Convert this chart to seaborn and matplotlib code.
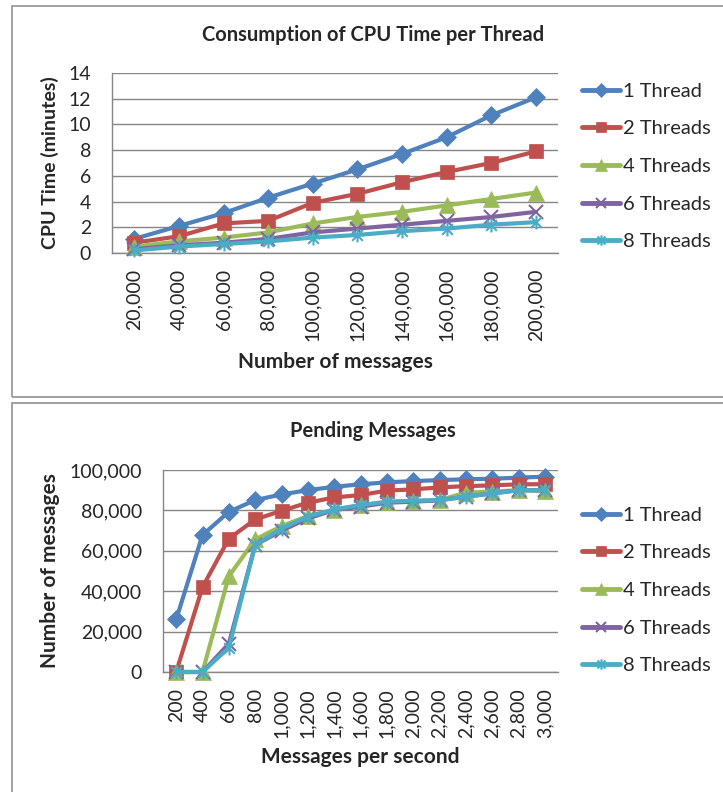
import numpy as np
import pandas as pd
import seaborn as sns
import matplotlib
matplotlib.use('Agg')
import matplotlib.pyplot as plt
from matplotlib.patches import Rectangle
from matplotlib.path import Path
from matplotlib.ticker import FuncFormatter

# ---- data ----
series_names = ['1 Thread', '2 Threads', '4 Threads', '6 Threads', '8 Threads']

cpu_msgs = ['20,000', '40,000', '60,000', '80,000', '100,000',
            '120,000', '140,000', '160,000', '180,000', '200,000']
cpu_1 = [1.1, 2.1, 3.1, 4.3, 5.4, 6.5, 7.7, 9.0, 10.7, 12.1]
cpu_2 = [0.8, 1.3, 2.3, 2.5, 3.9, 4.6, 5.5, 6.3, 7.0, 7.9]
cpu_4 = [0.5, 0.9, 1.2, 1.6, 2.3, 2.8, 3.2, 3.7, 4.2, 4.7]
cpu_6 = [0.3, 0.6, 0.8, 1.1, 1.6, 1.9, 2.2, 2.5, 2.8, 3.2]
cpu_8 = [0.2, 0.5, 0.7, 0.9, 1.2, 1.4, 1.7, 1.9, 2.2, 2.4]

rate = ['200', '400', '600', '800', '1,000', '1,200', '1,400', '1,600',
        '1,800', '2,000', '2,200', '2,400', '2,600', '2,800', '3,000']
pend_1 = [26000, 67800, 79300, 85100, 87900, 90000, 91700, 92900,
          93900, 94500, 95000, 95400, 95700, 96200, 96700]
pend_2 = [0, 42000, 66000, 75500, 79800, 83800, 86400, 87600,
          89800, 90400, 91400, 92000, 92400, 92900, 93000]
pend_4 = [0, 0, 47400, 65600, 72200, 77200, 80200, 82600,
          84000, 84600, 85100, 88800, 89300, 90000, 89600]
pend_6 = [0, 0, 14000, 62800, 70000, 76000, 80200, 81800,
          83800, 84300, 85000, 86800, 88400, 90000, 90000]
pend_8 = [0, 0, 12000, 62800, 71000, 76900, 80500, 82600,
          84300, 84800, 85100, 86800, 88400, 90000, 90000]

colors = ['#4F81BD', '#C0504D', '#9BBB59', '#8064A2', '#4BACC6']
# excel style "star": an x with a vertical bar through it
star = Path([(-1, -1), (1, 1), (-1, 1), (1, -1), (0, -1.3), (0, 1.3)],
            [Path.MOVETO, Path.LINETO, Path.MOVETO, Path.LINETO, Path.MOVETO, Path.LINETO])
markers = ['D', 's', '^', 'x', star]
msizes = [9, 10.5, 11, 9.5, 10]


def long_df(xcats, cols):
    df = pd.DataFrame({'x': xcats})
    for name, vals in zip(series_names, cols):
        df[name] = vals
    return df.melt(id_vars='x', var_name='series', value_name='value')


df_cpu = long_df(cpu_msgs, [cpu_1, cpu_2, cpu_4, cpu_6, cpu_8])
df_pend = long_df(rate, [pend_1, pend_2, pend_4, pend_6, pend_8])

sns.set_style('white')
plt.rcParams['font.family'] = ['Lato', 'DejaVu Sans']

W, H = 723, 792
fig = plt.figure(figsize=(W / 100, H / 100), dpi=100)

# chart frames
fig.patches.append(Rectangle((12 / W, 1 - 397 / H), 1.0, 391 / H, transform=fig.transFigure,
                             fill=False, edgecolor='#9A9A9A', linewidth=1.3))
fig.patches.append(Rectangle((12 / W, -0.01), 1.0, (H - 403) / H + 0.01, transform=fig.transFigure,
                             fill=False, edgecolor='#9A9A9A', linewidth=1.3))

grid_c = '#868686'


def draw(ax, df, xcats, ylim, yticks, fmt, title, xlabel, ylabel, ylab_size, title_y,
         ylab_x, xlab_y, leg_x, leg_y):
    for i, name in enumerate(series_names):
        sub = df[df['series'] == name]
        sns.lineplot(data=sub, x='x', y='value', ax=ax, color=colors[i],
                     marker=markers[i], markersize=msizes[i], linewidth=3,
                     markeredgecolor=colors[i], markeredgewidth=1.5 if i >= 3 else 0.5,
                     label=name, sort=False, zorder=3, clip_on=False)
    n = len(xcats)
    ax.set_xlim(-0.5, n - 0.5)
    ax.set_ylim(*ylim)
    ax.set_yticks(yticks)
    ax.yaxis.set_major_formatter(FuncFormatter(fmt))
    ax.set_xticks(range(n))
    ax.set_xticklabels(xcats, rotation=90, fontsize=14)
    ax.set_xticks(np.arange(n + 1) - 0.5, minor=True)
    ax.tick_params(axis='x', which='major', length=0, pad=11.5)
    ax.tick_params(axis='x', which='minor', length=5, color=grid_c, direction='out')
    ax.tick_params(axis='y', length=5, color=grid_c, direction='out', labelsize=14, pad=10)
    ax.yaxis.grid(True, color=grid_c, linewidth=1)
    ax.set_axisbelow(True)
    for s in ['top', 'right']:
        ax.spines[s].set_visible(False)
    for s in ['left', 'bottom']:
        ax.spines[s].set_color(grid_c)
        ax.spines[s].set_linewidth(1)
    ax.set_xlabel(xlabel, fontsize=15, fontweight='bold', va='center')
    ax.xaxis.set_label_coords(0.5, xlab_y)
    ax.set_ylabel(ylabel, fontsize=ylab_size, fontweight='bold', va='center')
    ax.yaxis.set_label_coords(ylab_x, 0.5)
    fig.text(373 / W, title_y, title, ha='center', va='center', fontsize=14.5, fontweight='bold')
    leg = ax.legend(loc='center left', bbox_to_anchor=(leg_x, leg_y), frameon=False,
                    borderaxespad=0, borderpad=0, fontsize=14.5, handlelength=1.9,
                    handletextpad=0.15, labelspacing=1.02, markerscale=0.75)
    for h in leg.legend_handles:
        h.set_linewidth(3.5)


ax1 = fig.add_axes([112 / W, 1 - 253 / H, (558 - 112) / W, (253 - 73) / H])
draw(ax1, df_cpu, cpu_msgs, (0, 14), range(0, 15, 2), lambda v, p: f'{v:.0f}',
     'Consumption of CPU Time per Thread', 'Number of messages', 'CPU Time (minutes)', 14,
     1 - 35 / H, (50 - 112) / 446, (253 - 362) / 180, (582 - 112) / 446, (253 - 166.5) / 180)

ax2 = fig.add_axes([163 / W, 1 - 672 / H, (558 - 163) / W, (672 - 470) / H])
draw(ax2, df_pend, rate, (0, 100000), range(0, 100001, 20000), lambda v, p: f'{v:,.0f}',
     'Pending Messages', 'Messages per second', 'Number of messages', 15,
     1 - 431 / H, (50 - 163) / 395, (672 - 757) / 202, (582 - 163) / 395, (672 - 590.5) / 202)

fig.savefig('out.png', dpi=100)
